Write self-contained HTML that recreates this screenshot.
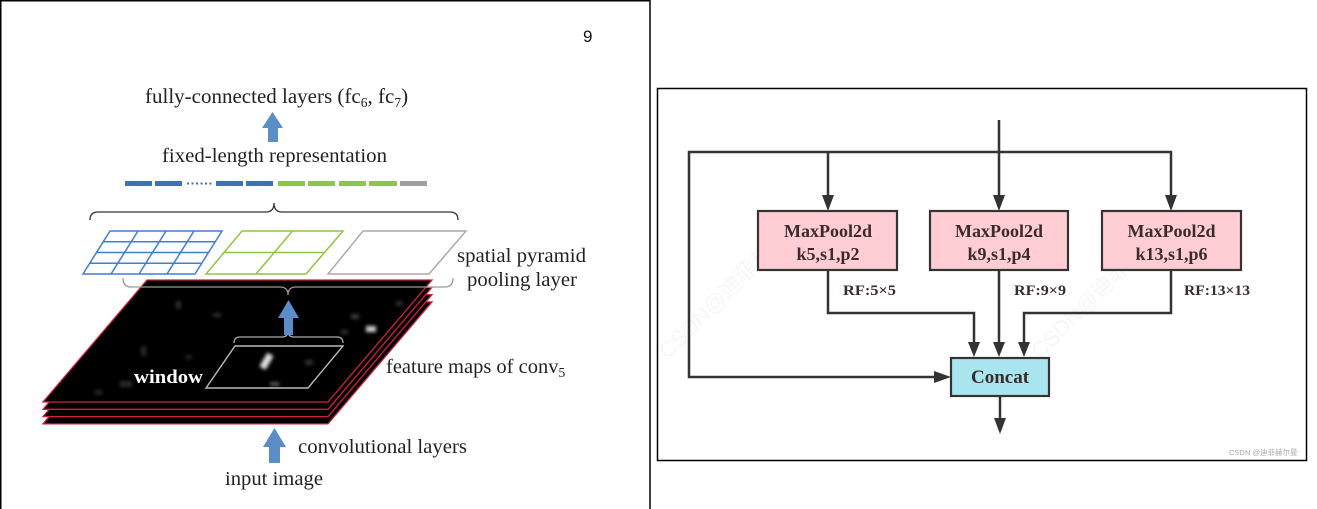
<!DOCTYPE html>
<html>
<head>
<meta charset="utf-8">
<style>
html,body{margin:0;padding:0;background:#fff;}
svg{display:block;}
.serif{font-family:"Liberation Serif","Noto Serif CJK SC",serif;}
.sans{font-family:"Liberation Sans","Noto Sans CJK SC",sans-serif;}
</style>
</head>
<body>
<svg width="1317" height="509" viewBox="0 0 1317 509" xmlns="http://www.w3.org/2000/svg">
<defs>
  <filter id="blur" x="-50%" y="-50%" width="200%" height="200%"><feGaussianBlur stdDeviation="1.8"/></filter>
</defs>
<rect x="0" y="0" width="1317" height="509" fill="#fff"/>

<!-- LEFT PANEL borders -->
<line x1="0" y1="0.75" x2="650" y2="0.75" stroke="#000" stroke-width="1.5"/>
<line x1="0.75" y1="0" x2="0.75" y2="509" stroke="#000" stroke-width="1.5"/>
<line x1="650" y1="0" x2="650" y2="509" stroke="#000" stroke-width="1.5"/>

<text x="583" y="42" class="sans" font-size="17" fill="#111">9</text>

<text x="145" y="103" class="serif" font-size="21" fill="#222">fully-connected layers (fc<tspan font-size="13.5" dy="4">6</tspan><tspan dy="-4">, fc</tspan><tspan font-size="13.5" dy="4">7</tspan><tspan dy="-4">)</tspan></text>

<!-- top arrow -->
<polygon points="268,142 278,142 278,128 283,128 272.5,112 262,128 268,128" fill="#5b8dc9"/>

<text x="162" y="162" class="serif" font-size="20" fill="#222" textLength="225" lengthAdjust="spacingAndGlyphs">fixed-length representation</text>

<!-- bar segments -->
<g>
  <rect x="125" y="181" width="27" height="5" fill="#3d72b4"/>
  <rect x="155" y="181" width="27" height="5" fill="#3d72b4"/>
  <rect x="187" y="182.5" width="2" height="2" fill="#3d72b4"/>
  <rect x="191.5" y="182.5" width="2" height="2" fill="#3d72b4"/>
  <rect x="196" y="182.5" width="2" height="2" fill="#3d72b4"/>
  <rect x="200.5" y="182.5" width="2" height="2" fill="#3d72b4"/>
  <rect x="205" y="182.5" width="2" height="2" fill="#3d72b4"/>
  <rect x="209.5" y="182.5" width="2" height="2" fill="#3d72b4"/>
  <rect x="216" y="181" width="27" height="5" fill="#3d72b4"/>
  <rect x="246" y="181" width="27" height="5" fill="#3d72b4"/>
  <rect x="278" y="181" width="27" height="5" fill="#8dc640"/>
  <rect x="308" y="181" width="27" height="5" fill="#8dc640"/>
  <rect x="339" y="181" width="27" height="5" fill="#8dc640"/>
  <rect x="369" y="181" width="28" height="5" fill="#8dc640"/>
  <rect x="400" y="181" width="27" height="5" fill="#a0a0a0"/>
</g>

<!-- upper brace -->
<path d="M90,220 Q90,212 98,212 L266,212 Q274,212 274,203 Q274,212 282,212 L450,212 Q458,212 458,220" fill="none" stroke="#333" stroke-width="1.3"/>

<!-- pyramid grids -->
<g fill="none" stroke-width="1.5">
  <g stroke="#3f7fd0">
    <polygon points="110,231 222,231 195,274 83,274"/>
    <line x1="103.25" y1="241.75" x2="215.25" y2="241.75"/>
    <line x1="96.5" y1="252.5" x2="208.5" y2="252.5"/>
    <line x1="89.75" y1="263.25" x2="201.75" y2="263.25"/>
    <line x1="138" y1="231" x2="111" y2="274"/>
    <line x1="166" y1="231" x2="139" y2="274"/>
    <line x1="194" y1="231" x2="167" y2="274"/>
  </g>
  <g stroke="#8dc640">
    <polygon points="242,231 343,231 306,274 206,274"/>
    <line x1="224" y1="252.5" x2="324.5" y2="252.5"/>
    <line x1="292.5" y1="231" x2="256" y2="274"/>
  </g>
  <g stroke="#aaa">
    <polygon points="363,231 466,231 429,274 328,274"/>
  </g>
</g>

<text x="457" y="262" class="serif" font-size="20" fill="#222" textLength="129" lengthAdjust="spacingAndGlyphs">spatial pyramid</text>
<text x="467" y="286" class="serif" font-size="20" fill="#222" textLength="110" lengthAdjust="spacingAndGlyphs">pooling layer</text>

<!-- feature map stack -->
<g stroke="#d0203e" stroke-width="1.3" fill="#000">
  <polygon points="147,301.9 432,301.9 328,423.9 43,423.9"/>
  <polygon points="147,294.6 432,294.6 328,416.6 43,416.6"/>
  <polygon points="147,287.3 432,287.3 328,409.3 43,409.3"/>
  <polygon points="147,280 432,280 328,402 43,402"/>
</g>
<!-- faint activations -->
<g filter="url(#blur)">
  <rect x="263" y="353" width="7" height="16" fill="#e0e0e0" transform="rotate(30 266 361)"/>
  <rect x="366" y="326" width="10" height="6" fill="#cfcfcf"/>
  <rect x="351" y="314" width="8" height="5" fill="#3a3a3a"/>
  <rect x="341" y="330" width="7" height="4" fill="#333"/>
  <rect x="176" y="301" width="5" height="8" fill="#2e2e2e"/>
  <rect x="213" y="313" width="8" height="4" fill="#2e2e2e"/>
  <rect x="141" y="346" width="5" height="10" fill="#2a2a2a"/>
  <rect x="120" y="381" width="12" height="6" fill="#2a2a2a"/>
  <rect x="185" y="355" width="7" height="4" fill="#262626"/>
  <rect x="270" y="382" width="9" height="4" fill="#555"/>
  <rect x="305" y="360" width="8" height="5" fill="#333"/>
  <rect x="396" y="301" width="7" height="5" fill="#2a2a2a"/>
  <rect x="95" y="390" width="7" height="5" fill="#262626"/>
</g>

<!-- lower brace (gray) -->
<path d="M123,278 Q123,287 131,287 L280,287 Q288,287 288,295 Q288,287 296,287 L445,287 Q453,287 453,278" fill="none" stroke="#999" stroke-width="1.3"/>

<!-- window brace -->
<path d="M234,343 Q234,337 240,337 L282,337 Q288,337 288,331 Q288,337 294,337 L337,337 Q343,337 343,343" fill="none" stroke="#aaa" stroke-width="1.3"/>

<!-- window arrow -->
<polygon points="284,335 293,335 293,318 299,318 288.5,300 278,318 284,318" fill="#5b8dc9"/>

<!-- window -->
<polygon points="235,346 343,346 308,388 206,388" fill="none" stroke="#bbb" stroke-width="1.4"/>
<text x="134" y="383" class="serif" font-size="19" font-weight="bold" fill="#fff" textLength="69" lengthAdjust="spacingAndGlyphs">window</text>

<text x="386" y="373" class="serif" font-size="20.5" fill="#222">feature maps of conv<tspan font-size="13.5" dy="4">5</tspan></text>

<!-- input arrow -->
<polygon points="269,463 280,463 280,447 286,447 274.5,428 263,447 269,447" fill="#5b8dc9"/>

<text x="298" y="453" class="serif" font-size="20" fill="#222" textLength="169" lengthAdjust="spacingAndGlyphs">convolutional layers</text>
<text x="225" y="485" class="serif" font-size="20" fill="#222" textLength="98" lengthAdjust="spacingAndGlyphs">input image</text>

<!-- RIGHT PANEL -->
<rect x="657.5" y="88.5" width="649" height="372" fill="#fff" stroke="#000" stroke-width="1.5"/>

<!-- watermarks -->
<g class="sans" font-size="22" fill="#000" fill-opacity="0.04">
  <text x="0" y="0" transform="translate(668,360) rotate(-45)">CSDN@迪菲赫尔曼</text>
  <text x="0" y="0" transform="translate(1040,360) rotate(-45)">CSDN@迪菲赫尔曼</text>
</g>

<g stroke="#333" stroke-width="2.5" fill="none" stroke-linecap="butt" stroke-linejoin="miter">
  <line x1="999" y1="120" x2="999" y2="197"/>
  <polyline points="1171,197 1171,152 689,152 689,377 937,377"/>
  <line x1="828" y1="152" x2="828" y2="197"/>
  <polyline points="828,270 828,313 974,313 974,344"/>
  <line x1="999" y1="270" x2="999" y2="344"/>
  <polyline points="1171,270 1171,313 1024,313 1024,344"/>
  <line x1="1000" y1="396" x2="1000" y2="420"/>
</g>
<g fill="#333">
  <polygon points="822,195 834,195 828,211"/>
  <polygon points="993,195 1005,195 999,211"/>
  <polygon points="1165,195 1177,195 1171,211"/>
  <polygon points="968,342 980,342 974,357"/>
  <polygon points="993,342 1005,342 999,357"/>
  <polygon points="1018,342 1030,342 1024,357"/>
  <polygon points="934,371 934,383 951,377"/>
  <polygon points="994,418 1006,418 1000,434"/>
</g>

<!-- boxes -->
<g stroke="#333" stroke-width="2.2">
  <rect x="758" y="211" width="139" height="59" fill="#ffcdd3"/>
  <rect x="930" y="211" width="138" height="59" fill="#ffcdd3"/>
  <rect x="1102" y="211" width="139" height="59" fill="#ffcdd3"/>
  <rect x="951" y="358" width="98" height="38" fill="#a9e5ef"/>
</g>

<g class="serif" font-weight="bold" fill="#3a2c2c" text-anchor="middle">
  <text x="828" y="237" font-size="18">MaxPool2d</text>
  <text x="828" y="260" font-size="18">k5,s1,p2</text>
  <text x="999" y="237" font-size="18">MaxPool2d</text>
  <text x="999" y="260" font-size="18">k9,s1,p4</text>
  <text x="1171.5" y="237" font-size="18">MaxPool2d</text>
  <text x="1171.5" y="260" font-size="18">k13,s1,p6</text>
  <text x="1000" y="383" font-size="19">Concat</text>
</g>
<g class="serif" font-weight="bold" fill="#3a2c2c" font-size="15">
  <text x="843" y="295" textLength="53" lengthAdjust="spacingAndGlyphs">RF:5×5</text>
  <text x="1014" y="295" textLength="52" lengthAdjust="spacingAndGlyphs">RF:9×9</text>
  <text x="1184" y="295" textLength="66" lengthAdjust="spacingAndGlyphs">RF:13×13</text>
</g>

<text x="1229" y="455" class="sans" font-size="7.5" fill="#aaa">CSDN @迪菲赫尔曼</text>
</svg>
</body>
</html>
